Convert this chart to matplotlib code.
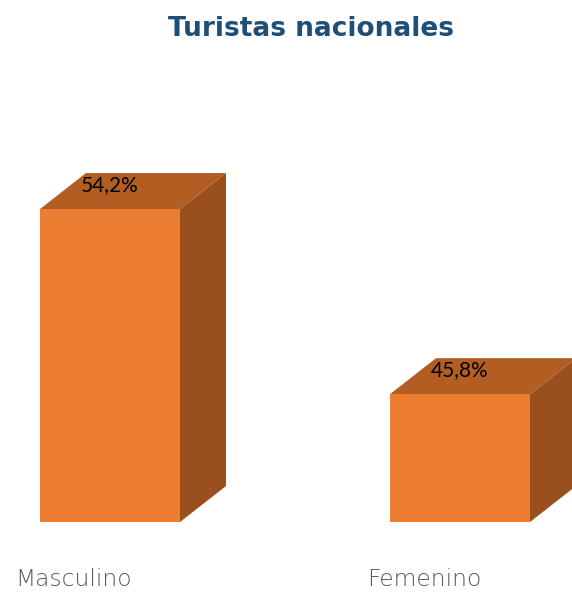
import matplotlib
matplotlib.use("Agg")
import matplotlib.pyplot as plt
from matplotlib.patches import Polygon

# data
categories = ["Masculino", "Femenino"]
values = [54.2, 45.8]
value_labels = ["54,2%", "45,8%"]

# colours
FRONT = "#ED7D31"
TOP = "#B25D22"
SIDE = "#9A501E"
TITLE_COLOR = "#1F4E79"
LABEL_COLOR = "#595959"

W, H = 572, 592
fig = plt.figure(figsize=(W / 100, H / 100), dpi=100)

# axes placed so the value scale sits like the original (base at 40)
Y_MIN, Y_MAX = 40, 60
px_per_unit = 22.04
ax_bottom = (H - 522) / H
ax_height = (Y_MAX - Y_MIN) * px_per_unit / H
ax = fig.add_axes([0, ax_bottom, 1, ax_height])
x_min = -110 / 350
ax.set_xlim(x_min, x_min + W / 350)
ax.set_ylim(Y_MIN, Y_MAX)
ax.axis("off")

bar_w = 0.4
dx = 46 / 350            # depth in x units
dy = 36 / px_per_unit    # depth in y units

for i, (cat, val, lab) in enumerate(zip(categories, values, value_labels)):
    x0, x1 = i - bar_w / 2, i + bar_w / 2
    front = Polygon([(x0, Y_MIN), (x1, Y_MIN), (x1, val), (x0, val)],
                    closed=True, fc=FRONT, ec="none", clip_on=False, zorder=3)
    top = Polygon([(x0, val), (x1, val), (x1 + dx, val + dy), (x0 + dx, val + dy)],
                  closed=True, fc=TOP, ec="none", clip_on=False, zorder=2)
    side = Polygon([(x1, Y_MIN), (x1 + dx, Y_MIN + dy), (x1 + dx, val + dy), (x1, val)],
                   closed=True, fc=SIDE, ec="none", clip_on=False, zorder=2)
    for p in (side, top, front):
        ax.add_patch(p)
    ax.annotate(lab, (i, val), xytext=(0, 24), textcoords="offset pixels",
                ha="center", va="center", fontsize=15, color="black",
                family="Lato", zorder=5)
    ax.annotate(cat, (i, Y_MIN), xytext=(-36, -58), textcoords="offset pixels",
                ha="center", va="center", fontsize=16.8, color=LABEL_COLOR,
                family="DejaVu Sans", fontweight="light", zorder=5)

fig.text(311 / W, 1 - 29 / H, "Turistas nacionales", ha="center", va="center",
         fontsize=19, fontweight="bold", color=TITLE_COLOR, family="DejaVu Sans")

fig.savefig("out.png", dpi=100)
